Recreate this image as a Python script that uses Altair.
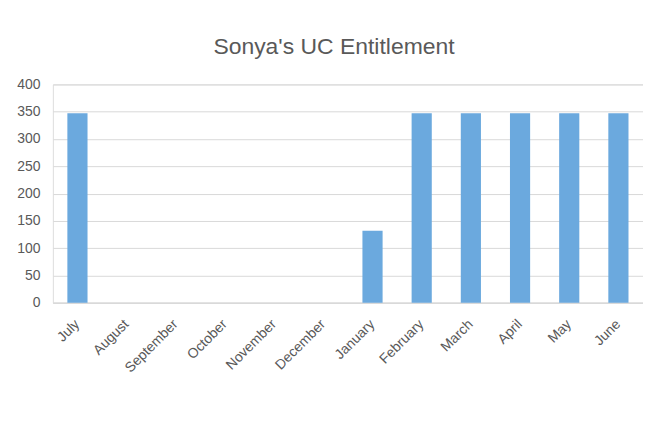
import altair as alt
import pandas as pd

months = ["July", "August", "September", "October", "November", "December",
          "January", "February", "March", "April", "May", "June"]
values = [347, 0, 0, 0, 0, 0, 132, 347, 347, 347, 347, 347]

df = pd.DataFrame({"month": months, "value": values})

chart = alt.Chart(df).mark_bar(color="#6ba9de").encode(
    x=alt.X("month:N", sort=months, title=None,
            scale=alt.Scale(paddingInner=0.59, paddingOuter=0.295),
            axis=alt.Axis(labelAngle=-45, labelAlign="right", labelBaseline="middle",
                          labelFont="Liberation Sans", labelFontSize=14, labelColor="#595959",
                          ticks=False, domainColor="#d9d9d9", domainWidth=1.5,
                          labelPadding=19, grid=False)),
    y=alt.Y("value:Q", title=None,
            scale=alt.Scale(domain=[0, 400], nice=False),
            axis=alt.Axis(values=[0, 50, 100, 150, 200, 250, 300, 350, 400],
                          labelFont="Liberation Sans", labelFontSize=14, labelColor="#595959",
                          ticks=False, domain=False, gridColor="#d9d9d9", gridWidth=1,
                          labelPadding=13)),
).properties(
    width=592,
    height=219,
    title=alt.TitleParams("Sonya's UC Entitlement", font="Liberation Sans", fontSize=23,
                          fontWeight="normal", color="#595959", anchor="middle",
                          dx=-14, offset=18),
    autosize=alt.AutoSizeParams(type="none"),
    padding={"left": 45, "top": 76, "right": 0, "bottom": 110},
).configure_view(stroke=None).configure(background="white")

chart.save("out.html", embed_options={"renderer": "svg", "actions": False})
